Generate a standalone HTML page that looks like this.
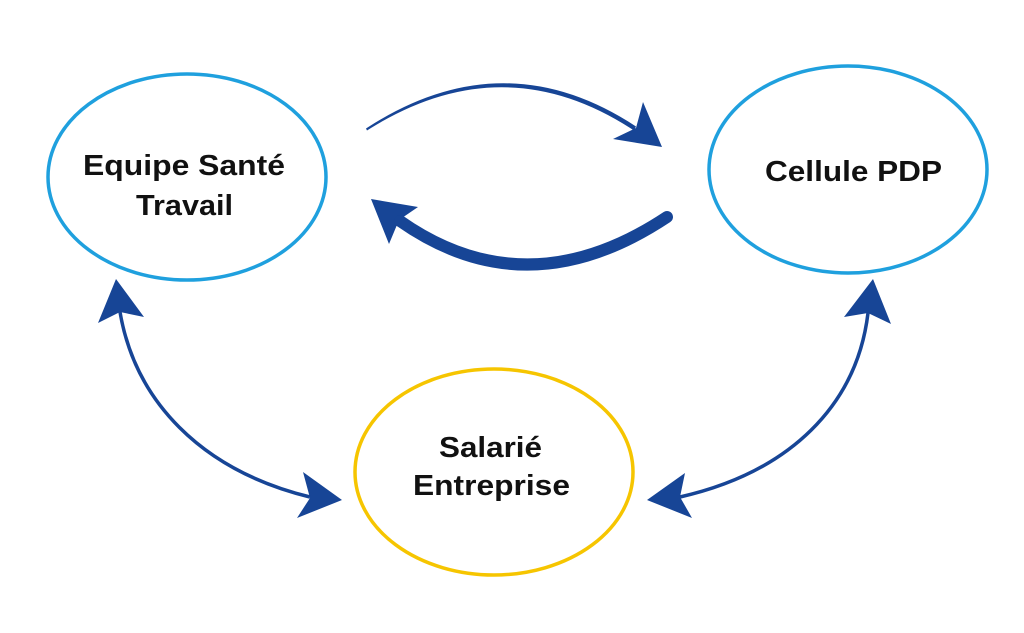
<!DOCTYPE html>
<html>
<head>
<meta charset="utf-8">
<style>
  html, body { margin:0; padding:0; background:#ffffff; }
  body { width:1024px; height:633px; overflow:hidden; }
  svg { display:block; }
  text { font-family:"Liberation Sans", Arial, sans-serif; font-weight:bold; fill:#111; }
</style>
</head>
<body>
<svg width="1024" height="633" viewBox="0 0 1024 633" xmlns="http://www.w3.org/2000/svg">
  <rect width="1024" height="633" fill="#fff"/>

  <!-- Ellipses -->
  <ellipse cx="187" cy="177" rx="139" ry="103" fill="#fff" stroke="#1fa0de" stroke-width="3.5"/>
  <ellipse cx="848" cy="169.5" rx="139" ry="103.5" fill="#fff" stroke="#1fa0de" stroke-width="3.5"/>
  <ellipse cx="494" cy="472" rx="139" ry="103" fill="#fff" stroke="#f6c500" stroke-width="3.5"/>

  <!-- Labels -->
  <text x="83" y="175" font-size="29" textLength="202" lengthAdjust="spacingAndGlyphs">Equipe Santé</text>
  <text x="136" y="215" font-size="29" textLength="97" lengthAdjust="spacingAndGlyphs">Travail</text>
  <text x="765" y="181" font-size="29" textLength="177" lengthAdjust="spacingAndGlyphs">Cellule PDP</text>
  <text x="439" y="457" font-size="29" textLength="103" lengthAdjust="spacingAndGlyphs">Salarié</text>
  <text x="413" y="495" font-size="29" textLength="157" lengthAdjust="spacingAndGlyphs">Entreprise</text>

  <g fill="#174596" stroke="none">
    <!-- Top thin arrow (tapered) -->
    <path d="M366,128.5 Q503,39 636,126.5 L634,130.5 Q503,44 367,130.5 Z"/>
    <polygon points="662,147 643,102 636,128 613,139"/>

    <!-- Bottom thick arrow head -->
    <polygon points="371,199 418,207 399,220 389,244"/>

    <!-- Left double arrow heads -->
    <polygon points="116,279 144,317 120,312 98,323"/>
    <polygon points="342,500 303,472 310,498 297,518"/>

    <!-- Right double arrow heads -->
    <polygon points="873,279 891,324 868,313 844,317"/>
    <polygon points="647,500 685,473 680,497 692,518"/>
  </g>

  <g fill="none" stroke="#174596" stroke-linecap="round">
    <!-- Bottom thick arrow curve -->
    <path d="M667,217 Q527,310 400,221" stroke-width="12"/>
    <!-- Left double arrow curve -->
    <path d="M120,312 C135,400 200,470 310,497" stroke-width="3.5" stroke-linecap="butt"/>
    <!-- Right double arrow curve -->
    <path d="M868,313 C857,405 790,472 680,497" stroke-width="3.5" stroke-linecap="butt"/>
  </g>
</svg>
</body>
</html>
